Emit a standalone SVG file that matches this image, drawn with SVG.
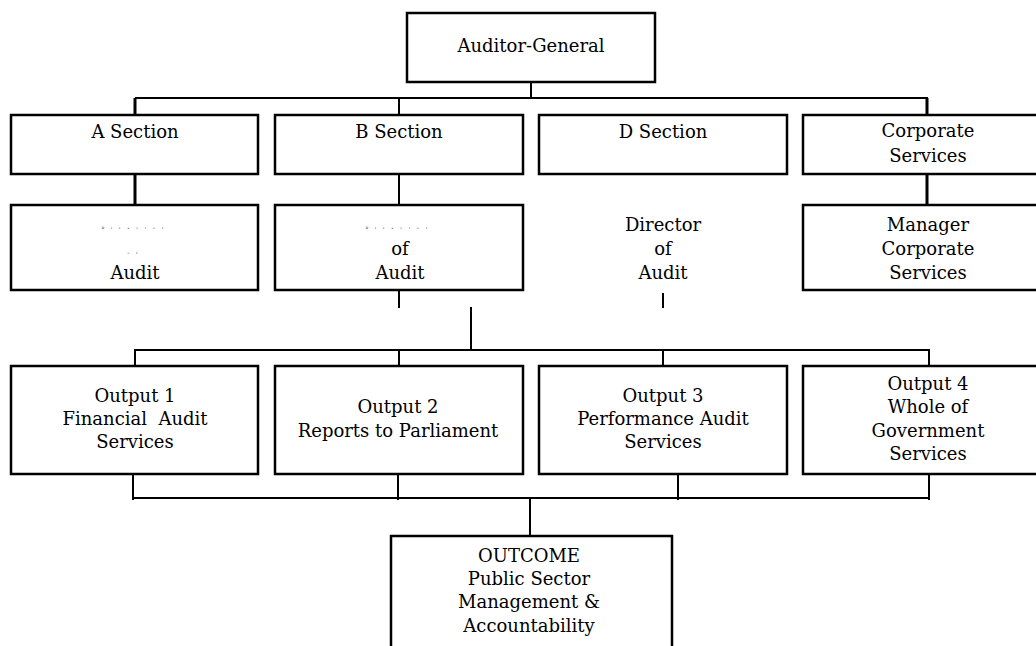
<svg xmlns="http://www.w3.org/2000/svg" width="1036" height="646" viewBox="0 0 1036 646">
<style>
.box{fill:#fff;stroke:#000;stroke-width:2.5}
.ln{stroke:#000;stroke-width:2;fill:none}
.thk{stroke:#000;stroke-width:3;fill:none}
text{font-family:"DejaVu Serif","Liberation Serif",serif;font-size:18px;fill:#000;text-anchor:middle}
.tiny{font-size:3px;letter-spacing:7px}
</style>
<rect width="1036" height="646" fill="#fff"/>
<g id="connectors">
<line class="ln" x1="531" y1="82" x2="531" y2="98"/>
<line class="ln" x1="135" y1="98" x2="928" y2="98"/>
<line class="thk" x1="135" y1="98" x2="135" y2="115"/>
<line class="ln" x1="399" y1="98" x2="399" y2="115"/>
<line class="thk" x1="927" y1="98" x2="927" y2="115"/>
<line class="thk" x1="135" y1="174" x2="135" y2="205"/>
<line class="ln" x1="399" y1="174" x2="399" y2="205"/>
<line class="thk" x1="927" y1="174" x2="927" y2="205"/>
<line class="ln" x1="399" y1="290" x2="399" y2="308"/>
<line class="ln" x1="663" y1="293" x2="663" y2="308"/>
<line class="ln" x1="471" y1="307" x2="471" y2="351"/>
<line class="ln" x1="134" y1="350" x2="930" y2="350"/>
<line class="ln" x1="135" y1="350" x2="135" y2="366"/>
<line class="ln" x1="399" y1="350" x2="399" y2="366"/>
<line class="ln" x1="663" y1="350" x2="663" y2="366"/>
<line class="ln" x1="929" y1="350" x2="929" y2="366"/>
<line class="ln" x1="133" y1="474" x2="133" y2="500"/>
<line class="ln" x1="398" y1="474" x2="398" y2="500"/>
<line class="ln" x1="678" y1="474" x2="678" y2="500"/>
<line class="ln" x1="929" y1="474" x2="929" y2="500"/>
<line class="ln" x1="132" y1="498" x2="930" y2="498"/>
<line class="ln" x1="530" y1="498" x2="530" y2="537"/>
</g>
<g id="auditor-general">
<rect class="box" x="407" y="13" width="248" height="69"/>
<text x="531" y="52">Auditor-General</text>
</g>
<g id="a-section">
<rect class="box" x="11" y="115" width="247" height="59"/>
<text x="135" y="138">A Section</text>
</g>
<g id="b-section">
<rect class="box" x="275" y="115" width="248" height="59"/>
<text x="399" y="138">B Section</text>
</g>
<g id="d-section">
<rect class="box" x="539" y="115" width="248" height="59"/>
<text x="663" y="138">D Section</text>
</g>
<g id="corporate-services">
<rect class="box" x="803" y="115" width="250" height="59"/>
<text x="928" y="137">Corporate</text>
<text x="928" y="162">Services</text>
</g>
<g id="a-director">
<rect class="box" x="11" y="205" width="247" height="85"/>
<text class="tiny" x="136" y="229">Director</text>
<text class="tiny" x="136" y="254">of</text>
<text x="135" y="279">Audit</text>
</g>
<g id="b-director">
<rect class="box" x="275" y="205" width="248" height="85"/>
<text class="tiny" x="400" y="229">Director</text>
<text x="400" y="255">of</text>
<text x="400" y="279">Audit</text>
</g>
<g id="d-director">
<text x="663" y="231">Director</text>
<text x="663" y="255">of</text>
<text x="663" y="279">Audit</text>
</g>
<g id="manager-corporate">
<rect class="box" x="803" y="205" width="250" height="85"/>
<text x="928" y="231">Manager</text>
<text x="928" y="255">Corporate</text>
<text x="928" y="279">Services</text>
</g>
<g id="output-1">
<rect class="box" x="11" y="366" width="247" height="108"/>
<text x="135" y="402">Output 1</text>
<text x="135" y="425" xml:space="preserve">Financial  Audit</text>
<text x="135" y="448">Services</text>
</g>
<g id="output-2">
<rect class="box" x="275" y="366" width="248" height="108"/>
<text x="398" y="413">Output 2</text>
<text x="398" y="437">Reports to Parliament</text>
</g>
<g id="output-3">
<rect class="box" x="539" y="366" width="248" height="108"/>
<text x="663" y="402">Output 3</text>
<text x="663" y="425">Performance Audit</text>
<text x="663" y="448">Services</text>
</g>
<g id="output-4">
<rect class="box" x="803" y="366" width="250" height="108"/>
<text x="928" y="390">Output 4</text>
<text x="928" y="413">Whole of</text>
<text x="928" y="437">Government</text>
<text x="928" y="460">Services</text>
</g>
<g id="outcome">
<rect class="box" x="391" y="536" width="281" height="130"/>
<text x="529" y="562">OUTCOME</text>
<text x="529" y="585">Public Sector</text>
<text x="529" y="608">Management &amp;</text>
<text x="529" y="632">Accountability</text>
</g>
</svg>
